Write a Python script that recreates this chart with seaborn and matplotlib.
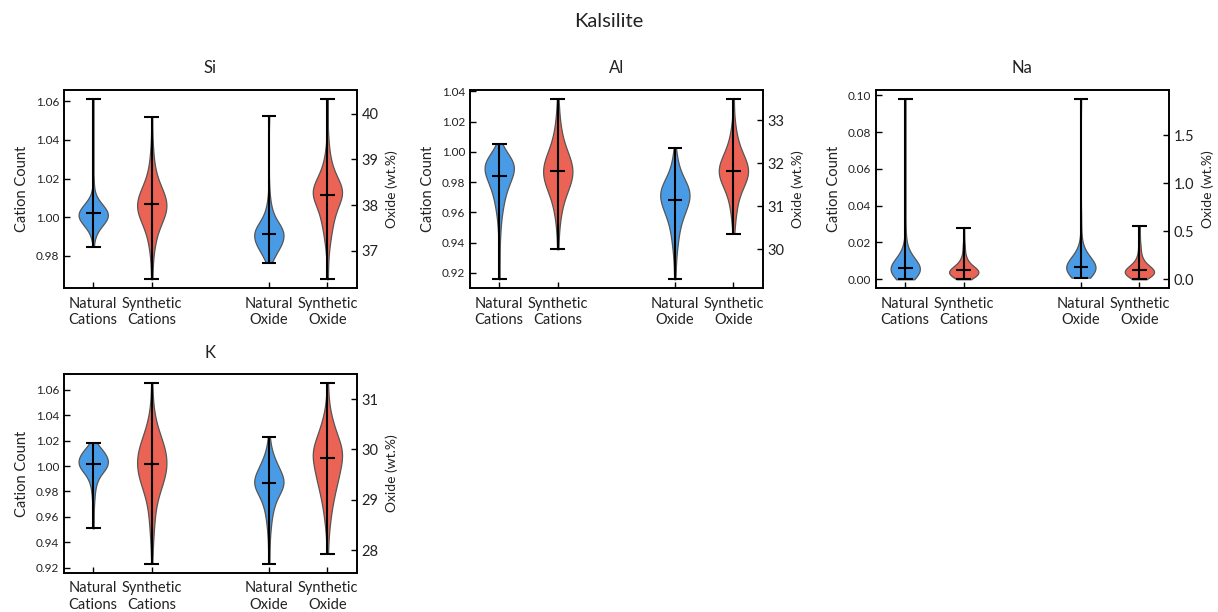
import numpy as np
import pandas as pd
import matplotlib
matplotlib.use("Agg")
import matplotlib.pyplot as plt
import seaborn as sns

# Measured values (left list) and how many analyses gave each value (right list)

# Si
SI_NAT_CAT_V = [0.9847, 0.990, 0.993, 0.996, 0.998, 1.000, 1.002, 1.004, 1.006, 1.008, 1.011, 1.015, 1.020, 1.0612]
SI_NAT_CAT_N = [1, 2, 4, 7, 10, 13, 13, 10, 7, 4, 2, 1, 1, 1]
SI_SYN_CAT_V = [0.9678, 0.975, 0.982, 0.988, 0.994, 0.999, 1.003, 1.007, 1.011, 1.015, 1.020, 1.026, 1.033, 1.041, 1.0519]
SI_SYN_CAT_N = [1, 1, 2, 4, 6, 9, 11, 12, 10, 7, 5, 3, 2, 1, 1]
SI_NAT_OX_V = [36.745, 36.85, 36.95, 37.05, 37.15, 37.25, 37.38, 37.45, 37.55, 37.65, 37.78, 37.92, 38.10, 38.35, 39.94]
SI_NAT_OX_N = [2, 3, 5, 7, 10, 12, 12, 10, 8, 6, 4, 3, 2, 1, 1]
SI_SYN_OX_V = [36.38, 36.75, 37.05, 37.30, 37.55, 37.80, 38.05, 38.23, 38.32, 38.45, 38.60, 38.80, 39.00, 39.25, 39.55, 40.32]
SI_SYN_OX_N = [1, 1, 2, 4, 6, 9, 11, 12, 11, 9, 7, 5, 3, 2, 1, 1]

# Al
AL_NAT_CAT_V = [0.9158, 0.930, 0.942, 0.950, 0.957, 0.963, 0.968, 0.973, 0.977, 0.981, 0.984, 0.988, 0.991, 0.994, 0.997, 1.000, 1.0053]
AL_NAT_CAT_N = [1, 1, 1, 2, 2, 4, 4, 5, 6, 7, 8, 10, 11, 9, 6, 3, 1]
AL_SYN_CAT_V = [0.9356, 0.945, 0.953, 0.960, 0.966, 0.972, 0.977, 0.982, 0.987, 0.992, 0.997, 1.002, 1.008, 1.014, 1.021, 1.028, 1.0349]
AL_SYN_CAT_N = [1, 1, 2, 3, 4, 6, 8, 10, 12, 10, 8, 6, 4, 3, 2, 1, 1]
AL_NAT_OX_V = [29.30, 29.55, 29.75, 29.95, 30.15, 30.35, 30.55, 30.72, 30.88, 31.02, 31.15, 31.28, 31.40, 31.52, 31.65, 31.80, 31.98, 32.15, 32.36]
AL_NAT_OX_N = [1, 1, 1, 2, 3, 4, 5, 6, 8, 9, 10, 11, 10, 8, 6, 4, 3, 2, 1]
AL_SYN_OX_V = [30.36, 30.55, 30.75, 30.95, 31.15, 31.35, 31.52, 31.67, 31.82, 31.97, 32.12, 32.28, 32.45, 32.65, 32.85, 33.10, 33.50]
AL_SYN_OX_N = [1, 1, 2, 3, 4, 6, 8, 10, 12, 10, 8, 6, 4, 3, 2, 1, 1]

# Na
NA_NAT_CAT_V = [0.0, 0.001, 0.002, 0.003, 0.004, 0.005, 0.006, 0.007, 0.008, 0.010, 0.012, 0.015, 0.019, 0.025, 0.033, 0.098]
NA_NAT_CAT_N = [2, 3, 5, 7, 8, 9, 9, 8, 7, 6, 5, 3, 2, 1, 1, 1]
NA_SYN_CAT_V = [0.0, 0.001, 0.002, 0.003, 0.004, 0.005, 0.006, 0.007, 0.009, 0.011, 0.014, 0.018, 0.023, 0.028]
NA_SYN_CAT_N = [2, 5, 7, 8, 8, 7, 6, 5, 4, 3, 2, 2, 1, 1]
NA_NAT_OX_V = [0.017, 0.03, 0.05, 0.07, 0.09, 0.11, 0.125, 0.15, 0.17, 0.20, 0.24, 0.29, 0.36, 0.47, 0.63, 1.877]
NA_NAT_OX_N = [2, 3, 5, 7, 8, 9, 9, 8, 7, 6, 5, 3, 2, 1, 1, 1]
NA_SYN_OX_V = [0.0, 0.02, 0.04, 0.06, 0.08, 0.10, 0.12, 0.14, 0.18, 0.22, 0.28, 0.35, 0.45, 0.554]
NA_SYN_OX_N = [2, 5, 7, 8, 8, 7, 6, 5, 4, 3, 2, 2, 1, 1]

# K
K_NAT_CAT_V = [0.9509, 0.960, 0.968, 0.975, 0.981, 0.986, 0.990, 0.994, 0.997, 1.000, 1.002, 1.006, 1.009, 1.012, 1.015, 1.0186]
K_NAT_CAT_N = [1, 1, 1, 2, 2, 3, 4, 5, 8, 10, 11, 12, 10, 7, 4, 2]
K_SYN_CAT_V = [0.9231, 0.935, 0.945, 0.955, 0.965, 0.975, 0.983, 0.990, 0.996, 1.002, 1.008, 1.014, 1.020, 1.027, 1.035, 1.044, 1.054, 1.0652]
K_SYN_CAT_N = [1, 1, 2, 3, 4, 6, 8, 10, 11, 11, 11, 10, 8, 6, 4, 2, 1, 1]
K_NAT_OX_V = [27.73, 27.95, 28.15, 28.35, 28.55, 28.72, 28.88, 29.02, 29.15, 29.29, 29.36, 29.48, 29.58, 29.68, 29.80, 29.93, 30.08, 30.25]
K_NAT_OX_N = [1, 1, 1, 2, 3, 4, 5, 7, 10, 14, 12, 10, 8, 7, 5, 3, 2, 1]
K_SYN_OX_V = [27.93, 28.20, 28.45, 28.65, 28.85, 29.05, 29.25, 29.45, 29.62, 29.83, 29.93, 30.08, 30.24, 30.42, 30.60, 30.80, 31.05, 31.31]
K_SYN_OX_N = [1, 1, 2, 3, 4, 6, 8, 10, 11, 11, 11, 10, 8, 6, 4, 2, 1, 1]

ELEMENTS = ["Si", "Al", "Na", "K"]
GROUPS = ["Natural", "Synthetic"]
TICK_LABELS = ["Natural\nCations", "Synthetic\nCations", "Natural\nOxide", "Synthetic\nOxide"]
PALETTE = {"Natural": "#4a9be6", "Synthetic": "#eb6354"}

CATIONS = {
    "Si": [(SI_NAT_CAT_V, SI_NAT_CAT_N), (SI_SYN_CAT_V, SI_SYN_CAT_N)],
    "Al": [(AL_NAT_CAT_V, AL_NAT_CAT_N), (AL_SYN_CAT_V, AL_SYN_CAT_N)],
    "Na": [(NA_NAT_CAT_V, NA_NAT_CAT_N), (NA_SYN_CAT_V, NA_SYN_CAT_N)],
    "K": [(K_NAT_CAT_V, K_NAT_CAT_N), (K_SYN_CAT_V, K_SYN_CAT_N)],
}
OXIDES = {
    "Si": [(SI_NAT_OX_V, SI_NAT_OX_N), (SI_SYN_OX_V, SI_SYN_OX_N)],
    "Al": [(AL_NAT_OX_V, AL_NAT_OX_N), (AL_SYN_OX_V, AL_SYN_OX_N)],
    "Na": [(NA_NAT_OX_V, NA_NAT_OX_N), (NA_SYN_OX_V, NA_SYN_OX_N)],
    "K": [(K_NAT_OX_V, K_NAT_OX_N), (K_SYN_OX_V, K_SYN_OX_N)],
}

TEXT = "#222222"
sns.set_style("ticks", {"xtick.direction": "in", "ytick.direction": "in",
                        "axes.edgecolor": "black"})
plt.rcParams["font.family"] = ["Lato", "DejaVu Sans"]
plt.rcParams["text.color"] = TEXT
plt.rcParams["axes.labelcolor"] = TEXT
plt.rcParams["xtick.color"] = "black"
plt.rcParams["ytick.color"] = "black"
plt.rcParams["xtick.labelcolor"] = TEXT
plt.rcParams["ytick.labelcolor"] = TEXT
plt.rcParams["axes.linewidth"] = 1.2


def draw_pair(ax, pairs, positions):
    frames = []
    for group, (vals, counts), pos in zip(GROUPS, pairs, positions):
        frames.append(pd.DataFrame({"pos": pos, "value": np.repeat(vals, counts), "group": group}))
    df = pd.concat(frames, ignore_index=True)
    sns.violinplot(data=df, x="pos", y="value", hue="group", hue_order=GROUPS,
                   palette=PALETTE, native_scale=True, dodge=False, cut=0,
                   inner=None, density_norm="width", width=0.5, linewidth=0.9,
                   linecolor="#555555", saturation=1, legend=False, ax=ax)
    # extrema and median bars
    for group in GROUPS:
        sub = df[df["group"] == group]
        pos = sub["pos"].iloc[0]
        lo, hi, med = sub["value"].min(), sub["value"].max(), sub["value"].median()
        ax.vlines(pos, lo, hi, color="black", lw=1.5, zorder=3)
        ax.hlines([lo, hi, med], pos - 0.125, pos + 0.125, color="black", lw=1.5, zorder=3)
    lo, hi = df["value"].min(), df["value"].max()
    pad = 0.05 * (hi - lo)
    ax.set_ylim(lo - pad, hi + pad)
    ax.set_xlabel("")
    ax.set_ylabel("")


fig, axes = plt.subplots(2, 3, figsize=(12.18, 6.12), dpi=100)
fig.subplots_adjust(left=0.0525, right=0.9595, top=0.853, bottom=0.0642,
                    wspace=0.387, hspace=0.434)
axes[1, 1].remove()
axes[1, 2].remove()
panel_axes = [axes[0, 0], axes[0, 1], axes[0, 2], axes[1, 0]]

for ax, element in zip(panel_axes, ELEMENTS):
    ax2 = ax.twinx()
    draw_pair(ax, CATIONS[element], [0, 1])
    draw_pair(ax2, OXIDES[element], [3, 4])
    ax.set_xlim(-0.5, 4.5)
    ax2.set_xlim(-0.5, 4.5)
    ax.set_xticks([0, 1, 3, 4])
    ax.set_xticklabels(TICK_LABELS, fontsize=10.5, linespacing=1.25)
    ax.set_ylabel("Cation Count", fontsize=10.5, labelpad=5)
    ax2.set_ylabel("Oxide (wt.%)", fontsize=10, labelpad=5)
    ax.set_title(element, fontsize=12, pad=12)
    ax.tick_params(axis="y", direction="in", labelsize=8.5, length=4.5, width=1.0)
    ax.tick_params(axis="x", direction="in", length=4.5, width=1.0, pad=6)
    ax2.tick_params(axis="y", direction="in", labelsize=10.5, length=4.5, width=1.0)
    for a in (ax, ax2):
        for s in a.spines.values():
            s.set_visible(True)
            s.set_linewidth(1.2)

fig.suptitle("Kalsilite", fontsize=14.5, y=0.978)
fig.savefig("out.png", dpi=100)
